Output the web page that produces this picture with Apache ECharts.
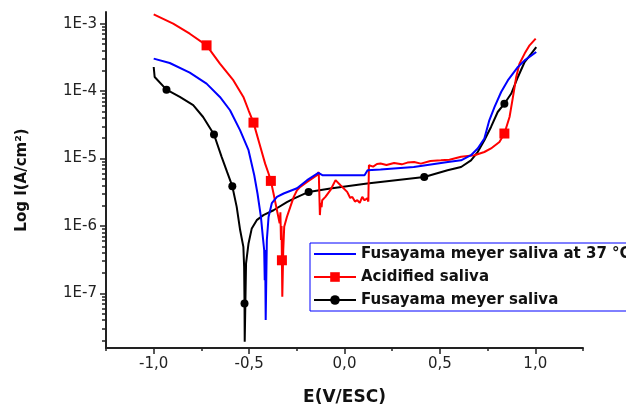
<!DOCTYPE html>
<html>
<head>
<meta charset="utf-8">
<script src="https://cdn.jsdelivr.net/npm/echarts@6/dist/echarts.min.js"></script>
<style>html,body{margin:0;padding:0;background:#fff}#c{width:626px;height:407px}</style>
</head>
<body>
<div id="c"></div>
<script>
// ---- Data (E in V/ESC, I in A/cm²) ----
const seriesNames = ['Fusayama meyer saliva at 37 °C', 'Acidified saliva', 'Fusayama meyer saliva'];

const blueE = [-1.0, -0.916, -0.811, -0.723, -0.653, -0.6, -0.547, -0.503, -0.473, -0.456, -0.438, -0.428, -0.421, -0.418, -0.416, -0.413, -0.407, -0.398, -0.381, -0.354, -0.319, -0.249, -0.196, -0.137, -0.116, 0.105, 0.121, 0.189, 0.363, 0.542, 0.611, 0.663, 0.698, 0.733, 0.759, 0.786, 0.821, 0.856, 0.909, 0.944, 1.005];
const blueI = [3.03e-4, 2.61e-4, 1.88e-4, 1.29e-4, 8.2e-5, 5.2e-5, 2.62e-5, 1.33e-5, 5.66e-6, 3.03e-6, 1.36e-6, 6.9e-7, 4.4e-7, 1.57e-7, 4.4e-7, 4.05e-8, 6.2e-7, 1.36e-6, 2.18e-6, 2.7e-6, 3.03e-6, 3.63e-6, 4.78e-6, 6.12e-6, 5.66e-6, 5.66e-6, 6.7e-6, 6.87e-6, 7.5e-6, 8.9e-6, 9.4e-6, 1.12e-5, 1.41e-5, 1.98e-5, 3.69e-5, 5.8e-5, 9.7e-5, 1.44e-4, 2.28e-4, 2.86e-4, 3.8e-4];

const redE = [-1.0, -0.898, -0.811, -0.723, -0.653, -0.582, -0.53, -0.503, -0.477, -0.446, -0.416, -0.398, -0.386, -0.372, -0.354, -0.340, -0.336, -0.333, -0.330, -0.328, -0.326, -0.321, -0.316, -0.302, -0.284, -0.266, -0.249, -0.232, -0.196, -0.144, -0.135, -0.129, -0.125, -0.120, -0.117, -0.1, -0.074, -0.047, -0.021, 0.014, 0.03, 0.041, 0.055, 0.067, 0.08, 0.093, 0.105, 0.119, 0.125, 0.128, 0.15, 0.17, 0.189, 0.22, 0.26, 0.30, 0.33, 0.365, 0.40, 0.45, 0.505, 0.55, 0.611, 0.681, 0.733, 0.768, 0.812, 0.838, 0.865, 0.883, 0.9, 0.917, 0.944, 0.97, 1.002];
const redI = [1.37e-3, 1.0e-3, 7.1e-4, 4.77e-4, 2.55e-4, 1.44e-4, 8.2e-5, 5.2e-5, 3.41e-5, 1.67e-5, 8.4e-6, 6.0e-6, 4.66e-6, 3.03e-6, 1.71e-6, 1.1e-6, 1.6e-6, 6.2e-7, 1.0e-6, 3.1e-7, 8.9e-8, 4.4e-7, 9.7e-7, 1.36e-6, 1.92e-6, 2.7e-6, 3.39e-6, 3.8e-6, 4.5e-6, 5.66e-6, 6.3e-6, 1.45e-6, 2.2e-6, 1.9e-6, 2.41e-6, 2.7e-6, 3.39e-6, 4.78e-6, 4.02e-6, 3.2e-6, 2.6e-6, 2.7e-6, 2.3e-6, 2.41e-6, 2.2e-6, 2.7e-6, 2.4e-6, 2.58e-6, 2.3e-6, 7.96e-6, 7.6e-6, 8.3e-6, 8.44e-6, 8.0e-6, 8.6e-6, 8.2e-6, 8.7e-6, 8.9e-6, 8.4e-6, 9.2e-6, 9.4e-6, 9.6e-6, 1.06e-5, 1.12e-5, 1.25e-5, 1.41e-5, 1.76e-5, 2.35e-5, 4.13e-5, 8.2e-5, 1.62e-4, 2.55e-4, 3.6e-4, 4.77e-4, 6.0e-4];
const redMarkerE = [-0.723, -0.477, -0.386, -0.328, 0.838];

const blackE = [-1.0, -0.995, -0.933, -0.863, -0.793, -0.741, -0.684, -0.644, -0.615, -0.588, -0.565, -0.547, -0.53, -0.526, -0.524, -0.523, -0.516, -0.503, -0.486, -0.46, -0.425, -0.372, -0.302, -0.266, -0.188, -0.074, 0.119, 0.418, 0.54, 0.611, 0.663, 0.698, 0.733, 0.768, 0.803, 0.838, 0.874, 0.909, 0.944, 0.979, 1.005];
const blackI = [2.28e-4, 1.62e-4, 1.05e-4, 8.2e-5, 6.2e-5, 4.13e-5, 2.27e-5, 1.06e-5, 6.27e-6, 3.89e-6, 1.92e-6, 8.7e-7, 4.9e-7, 2.48e-7, 7.1e-8, 1.92e-8, 2.78e-7, 5.5e-7, 9.2e-7, 1.22e-6, 1.45e-6, 1.71e-6, 2.25e-6, 2.55e-6, 3.2e-6, 3.6e-6, 4.26e-6, 5.33e-6, 6.7e-6, 7.5e-6, 9.4e-6, 1.25e-5, 1.87e-5, 2.94e-5, 4.9e-5, 6.5e-5, 9.2e-5, 1.62e-4, 2.7e-4, 3.6e-4, 4.5e-4];
const blackMarkerE = [-0.933, -0.684, -0.588, -0.524, -0.188, 0.418, 0.838];

// ---- Axis ticks ----
const xMin = -1.25, xMax = 1.25, xMinorStep = 0.25;
const xTickLabels = [-1.0, -0.5, 0.0, 0.5, 1.0];
const yMin = 1.55e-8, yMax = 1.49e-3;
const yTickLabels = [1e-7, 1e-6, 1e-5, 1e-4, 1e-3];
const yMinorMult = [2, 3, 4, 5, 6, 7, 8, 9];
const yDecades = [1e-8, 1e-7, 1e-6, 1e-5, 1e-4];

const yMinorTicks = [];
yDecades.forEach(d => yMinorMult.forEach(m => {
  const v = d * m;
  if (v >= yMin && v <= yMax) yMinorTicks.push(v);
}));

function buildData(E, I, markers, sym, size) {
  return E.map((e, i) => {
    const isM = markers && markers.indexOf(e) >= 0;
    return isM ? { value: [e, I[i]], symbol: sym, symbolSize: size } : { value: [e, I[i]], symbol: 'none' };
  });
}

const chart = echarts.init(document.getElementById('c'), null, { renderer: 'canvas' });
const axisColor = '#222';
const labelFont = { fontFamily: 'DejaVu Sans', fontSize: 15, color: '#222' };

chart.setOption({
  animation: false,
  backgroundColor: '#fff',
  grid: { left: 106, right: 43, top: 12, bottom: 59, containLabel: false, outerBoundsMode: 'none' },
  legend: {
    data: [
      { name: seriesNames[0], itemStyle: { opacity: 0 } },
      { name: seriesNames[1] },
      { name: seriesNames[2] }
    ],
    orient: 'vertical',
    left: 310, top: 243,
    padding: [2, 6, 2, 3],
    itemGap: 5,
    itemWidth: 42, itemHeight: 12,
    borderColor: '#0000ff', borderWidth: 1,
    textStyle: { fontFamily: 'DejaVu Sans', fontWeight: 'bold', fontSize: 15, color: '#111', lineHeight: 18 }
  },
  xAxis: [
    {
      type: 'value', min: xMin, max: xMax, interval: xMinorStep,
      axisLine: { show: true, onZero: false, lineStyle: { color: axisColor, width: 2 } },
      axisTick: { show: true, length: 3, lineStyle: { color: axisColor, width: 1.5 } },
      axisLabel: { show: false }, splitLine: { show: false },
      name: 'E(V/ESC)', nameLocation: 'middle', nameGap: 41,
      nameTextStyle: { fontFamily: 'DejaVu Sans', fontWeight: 'bold', fontSize: 17, color: '#111' }
    },
    {
      type: 'value', min: xMin, max: xMax, interval: xMinorStep, position: 'bottom',
      axisLine: { show: false, onZero: false },
      axisTick: { show: true, length: 6, customValues: xTickLabels, lineStyle: { color: axisColor, width: 1.5 } },
      axisLabel: Object.assign({ show: true, margin: 9, customValues: xTickLabels,
        formatter: v => Number(v).toFixed(1).replace('.', ',') }, labelFont),
      splitLine: { show: false }
    }
  ],
  yAxis: [
    {
      type: 'log', logBase: 10, min: yMin, max: yMax, position: 'left',
      axisLine: { show: true, onZero: false, lineStyle: { color: axisColor, width: 2 } },
      axisTick: { show: true, length: 4, customValues: yMinorTicks, lineStyle: { color: axisColor, width: 1.5 } },
      axisLabel: { show: false }, splitLine: { show: false }, minorTick: { show: false },
      name: 'Log I(A/cm²)', nameLocation: 'middle', nameGap: 76, nameRotate: 90,
      nameTextStyle: { fontFamily: 'DejaVu Sans', fontWeight: 'bold', fontSize: 15, color: '#111' }
    },
    {
      type: 'log', logBase: 10, min: yMin, max: yMax, position: 'left', offset: 0,
      axisLine: { show: false, onZero: false },
      axisTick: { show: true, length: 6, customValues: yTickLabels, lineStyle: { color: axisColor, width: 1.5 } },
      axisLabel: Object.assign({ show: true, margin: 9, customValues: yTickLabels,
        formatter: v => '1E' + Math.round(Math.log10(v)) }, labelFont),
      splitLine: { show: false }
    }
  ],
  series: [
    {
      name: seriesNames[2], type: 'line', xAxisIndex: 0, yAxisIndex: 0,
      data: buildData(blackE, blackI, blackMarkerE, 'circle', 8),
      symbol: 'circle', symbolSize: 8, showSymbol: true, showAllSymbol: true,
      lineStyle: { color: '#000', width: 2 }, itemStyle: { color: '#000' }, z: 2
    },
    {
      name: seriesNames[1], type: 'line', xAxisIndex: 0, yAxisIndex: 0,
      data: buildData(redE, redI, redMarkerE, 'rect', 10),
      symbol: 'rect', symbolSize: 10, showSymbol: true, showAllSymbol: true,
      lineStyle: { color: '#ff0000', width: 2 }, itemStyle: { color: '#ff0000' }, z: 3
    },
    {
      name: seriesNames[0], type: 'line', xAxisIndex: 0, yAxisIndex: 0,
      data: buildData(blueE, blueI, null, 'none', 0),
      symbol: 'none', showSymbol: false,
      lineStyle: { color: '#0000ff', width: 2 }, itemStyle: { color: '#0000ff' }, z: 4
    }
  ]
});
</script>
</body>
</html>
